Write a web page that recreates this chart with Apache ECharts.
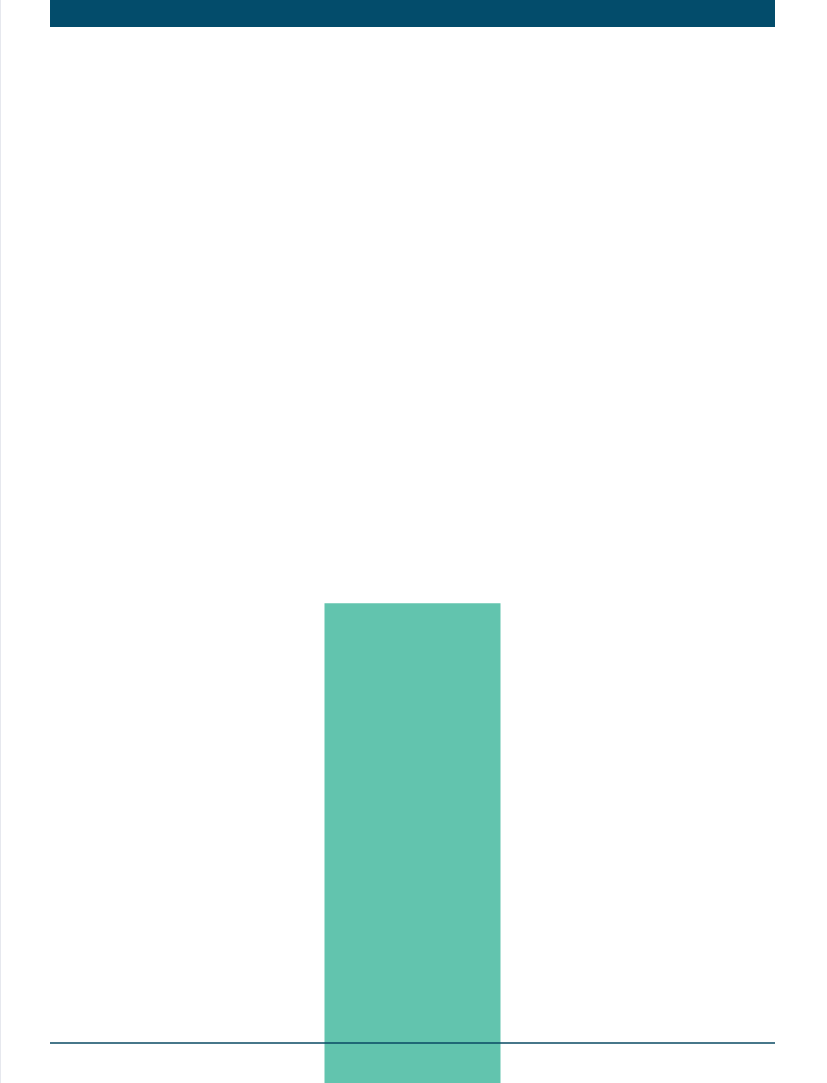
<!DOCTYPE html>
<html>
<head>
<meta charset="utf-8">
<script src="https://cdn.jsdelivr.net/npm/echarts@6/dist/echarts.min.js"></script>
<style>
  html, body { margin: 0; padding: 0; background: #fff; }
  #chart { width: 827px; height: 1083px; box-sizing: border-box; border-left: 1px solid #e6e8ee; }
</style>
</head>
<body>
<div id="chart"></div>
<script>
// data
var categories = [''];
var barValues = [44.3];
var baselineValue = 3.7;
var headerBand = [97.5, 100];
var yMin = 0;
var yMax = 100;

var chart = echarts.init(document.getElementById('chart'));
var option = {
    animation: false,
    grid: {
        left: 49,
        right: 52,
        top: 0,
        bottom: 0
    },
    xAxis: {
        type: 'category',
        data: categories,
        show: false
    },
    yAxis: {
        type: 'value',
        min: yMin,
        max: yMax,
        show: false,
        splitLine: { show: false }
    },
    series: [{
        type: 'bar',
        barWidth: 176,
        itemStyle: { color: '#62c4ae' },
        data: barValues,
        markArea: {
            silent: true,
            itemStyle: { color: '#034c6b' },
            data: [[{ yAxis: headerBand[0] }, { yAxis: headerBand[1] }]]
        },
        markLine: {
            silent: true,
            symbol: 'none',
            label: { show: false },
            lineStyle: { color: '#0a4a63', width: 1.5, type: 'solid' },
            data: [{ yAxis: baselineValue }]
        }
    }]
};
chart.setOption(option);
</script>
</body>
</html>
